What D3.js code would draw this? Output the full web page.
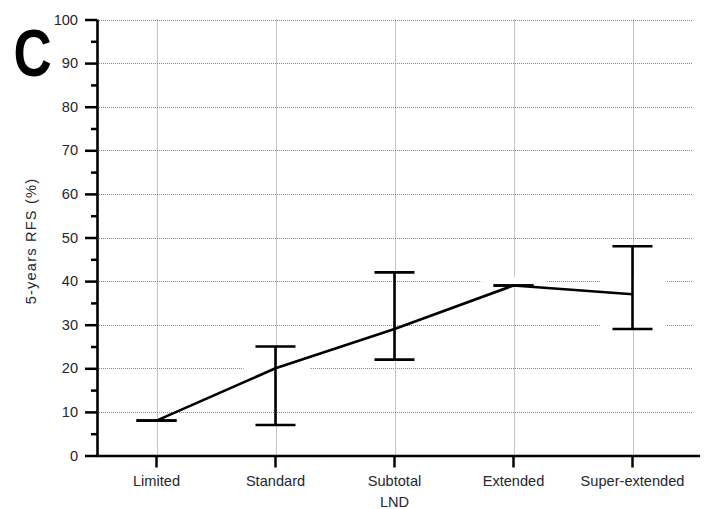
<!DOCTYPE html>
<html>
<head>
<meta charset="utf-8">
<script src="https://cdn.jsdelivr.net/npm/d3@7"></script>
<style>
  html, body { margin: 0; padding: 0; background: #fff; }
  svg text { font-family: "Liberation Sans", Arial, sans-serif; }
</style>
</head>
<body>
<svg id="chart" width="706" height="509"></svg>
<script>
// 5-year recurrence-free survival by lymph node dissection extent
const categories = ["Limited", "Standard", "Subtotal", "Extended", "Super-extended"];
const rfs = [8, 20, 29, 39, 37];
const ciLow = [8, 7, 22, 39, 29];
const ciHigh = [8, 25, 42, 39, 48];
const yTicks = [0, 10, 20, 30, 40, 50, 60, 70, 80, 90, 100];
const yMinorTicks = [5, 15, 25, 35, 45, 55, 65, 75, 85, 95];

(function () {
  const svg = d3.select("#chart");
  const pLeft = 97, pRight = 692, pTop = 19.5, pBottom = 455.5;
  const textColor = "#26262e";
  const fontSize = 14.6;

  const x = d3.scaleBand().domain(categories).range([pLeft, pRight]);
  const cx = c => x(c) + x.bandwidth() / 2;
  const y = d3.scaleLinear().domain([0, 100]).range([pBottom, pTop]);

  // grid
  const grid = svg.append("g").attr("stroke", "#8a8a8a").attr("stroke-width", 1)
    .attr("stroke-dasharray", "1,1").attr("fill", "none");
  grid.selectAll("line.h").data(yTicks.filter(t => t > 0)).join("line")
    .attr("x1", pLeft).attr("x2", pRight)
    .attr("y1", d => Math.round(y(d)) + 0.5).attr("y2", d => Math.round(y(d)) + 0.5);
  grid.selectAll("line.v").data(categories).join("line")
    .attr("y1", pTop).attr("y2", pBottom)
    .attr("x1", d => Math.round(cx(d)) + 0.5).attr("x2", d => Math.round(cx(d)) + 0.5);

  // white label backings that interrupt the grid
  const backings = [
    { cat: "Standard", lo: 19, hi: 21 },
    { cat: "Extended", lo: 39, hi: 41 },
    { cat: "Super-extended", lo: 29, hi: 41 }
  ];
  svg.append("g").selectAll("rect").data(backings).join("rect")
    .attr("x", d => cx(d.cat) - 32).attr("width", 66)
    .attr("y", d => y(d.hi)).attr("height", d => y(d.lo) - y(d.hi))
    .attr("fill", "#fff");

  // axes
  const yAxis = svg.append("g").attr("transform", `translate(${pLeft},0)`)
    .call(d3.axisLeft(y).tickValues(yTicks).tickSize(12).tickPadding(7).tickFormat(d3.format("d")));
  svg.append("g").attr("transform", `translate(${pLeft},0)`)
    .call(d3.axisLeft(y).tickValues(yMinorTicks).tickSize(6).tickFormat(""))
    .call(g => g.select(".domain").remove());
  const xAxis = svg.append("g").attr("transform", `translate(0,${pBottom})`)
    .call(d3.axisBottom(x).tickSize(12).tickPadding(8).tickSizeOuter(0));

  svg.selectAll(".tick line").attr("stroke", "#000").attr("stroke-width", 2.5);
  yAxis.select(".domain").attr("stroke", "#000").attr("stroke-width", 2.6)
    .attr("d", `M0.5,${pBottom + 1}V${pTop}`);
  xAxis.select(".domain").attr("stroke", "#000").attr("stroke-width", 2.6)
    .attr("d", `M${pLeft - 1},0.5H700`);
  svg.selectAll(".tick text").attr("font-size", fontSize).attr("fill", textColor)
    .attr("font-family", "'Liberation Sans', Arial, sans-serif");

  // error bars
  const capHalf = 20;
  const bars = svg.append("g").attr("stroke", "#000").attr("stroke-width", 2.6).attr("fill", "none");
  categories.forEach((c, i) => {
    const g = bars.append("g");
    if (ciHigh[i] > ciLow[i]) {
      g.append("line").attr("x1", cx(c)).attr("x2", cx(c)).attr("y1", y(ciLow[i])).attr("y2", y(ciHigh[i]));
    }
    [ciLow[i], ciHigh[i]].forEach(v => {
      g.append("line").attr("x1", cx(c) - capHalf).attr("x2", cx(c) + capHalf)
        .attr("y1", y(v)).attr("y2", y(v));
    });
  });

  // mean line
  svg.append("path")
    .datum(categories.map((c, i) => [cx(c), y(rfs[i])]))
    .attr("d", d3.line())
    .attr("fill", "none").attr("stroke", "#000").attr("stroke-width", 2.6)
    .attr("stroke-linejoin", "round");

  // titles
  svg.append("text").attr("x", (pLeft + pRight) / 2).attr("y", 507)
    .attr("text-anchor", "middle").attr("font-size", fontSize).attr("fill", textColor).text("LND");
  svg.append("text").attr("transform", `translate(36,241) rotate(-90)`)
    .attr("text-anchor", "middle").attr("font-size", fontSize).attr("letter-spacing", 1.2)
    .attr("fill", textColor).text("5-years RFS (%)");
  svg.append("text").attr("transform", "translate(13.5,76) scale(0.8,1)")
    .attr("font-family", "'Open Sans', sans-serif").attr("font-weight", "bold")
    .attr("font-size", 66).attr("fill", "#000").text("C");
})();
</script>
</body>
</html>
